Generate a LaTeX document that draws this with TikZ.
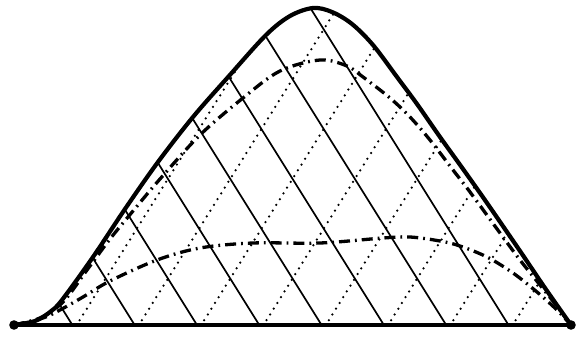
\documentclass[tikz,border=0pt]{standalone}
\begin{document}
\begin{tikzpicture}[x=1pt,y=-1pt,
  bell/.style={line width=4.2pt, line join=round},
  solidgrid/.style={line width=1.7pt},
  dotgrid/.style={line width=2.5pt, dash pattern=on 0pt off 6.8pt, line cap=round},
  dashdot/.style={line width=3.3pt, dash pattern=on 11pt off 5pt on 1.8pt off 5pt},
  enddot/.style={fill=black, draw=none}]
\useasboundingbox (0,0) rectangle (584,337);
\coordinate (L) at (14,325);
\coordinate (R) at (571,325);
\begin{scope}
  \clip plot[smooth,tension=0.55] coordinates {(14,325) (35,321) (50,312) (62,300) (93,257) (125,209) (158,162) (193,117) (229,76) (266,35) (290,16) (313,8) (332,12) (352,24) (373,45) (397,77) (417,104) (440,137) (463,169) (487,203) (520,251) (545,288) (571,325)} -- cycle;
  \foreach \k in {0,...,7} {
    \draw[solidgrid] ({73+62.3*\k},326) -- ++(-210,-336);
    \draw[dotgrid] ({76+62.3*\k},326) -- ++(210,-336);
  }
\end{scope}
\draw[dashdot] plot[smooth,tension=0.55] coordinates {(14,325) (40,318) (63,302) (87,270) (110,239) (133,211) (160,179) (200,135) (243,98) (280,71) (320,60) (347,66) (363,77) (390,98) (410,117) (430,140) (453,170) (470,192) (500,233) (520,260) (540,285) (556,305) (571,325)};
\draw[dashdot] plot[smooth,tension=0.55] coordinates {(14,325) (43,318) (60,310) (83,297) (110,281) (157,260) (200,248) (253,243) (320,243) (383,238) (410,237) (440,241) (460,246) (487,257) (513,273) (537,292) (557,310) (571,325)};
\draw[bell] plot[smooth,tension=0.55] coordinates {(14,325) (35,321) (50,312) (62,300) (93,257) (125,209) (158,162) (193,117) (229,76) (266,35) (290,16) (313,8) (332,12) (352,24) (373,45) (397,77) (417,104) (440,137) (463,169) (487,203) (520,251) (545,288) (571,325)};
\draw[line width=4.6pt] (L) -- (R);
\fill[enddot] (L) circle (4.8pt);
\fill[enddot] (R) circle (4.8pt);
\end{tikzpicture}
\end{document}
